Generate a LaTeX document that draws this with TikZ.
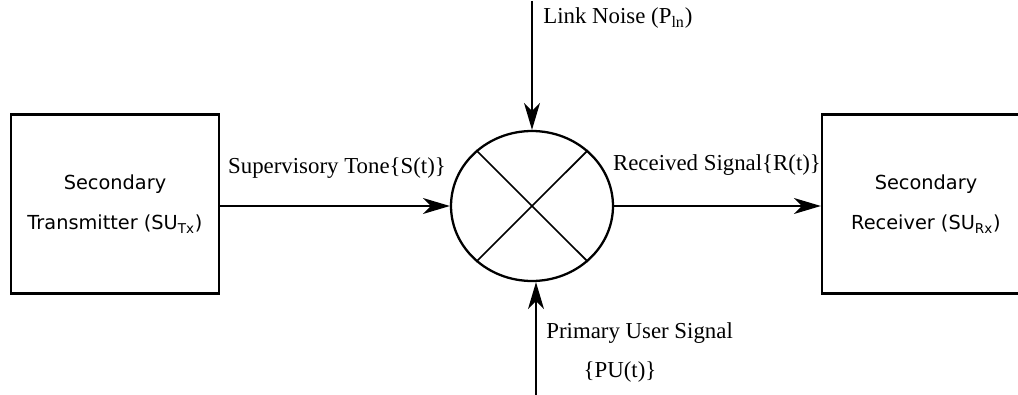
\documentclass[tikz,border=0pt]{standalone}
\usepackage{fontspec}
\setmainfont{Liberation Serif}
\newfontfamily\boxfont{DejaVu Sans}
\usetikzlibrary{positioning,arrows.meta,shapes.geometric}

\begin{document}
\begin{tikzpicture}[
x=0.02cm, y=-0.02cm,
unitbox/.style={
  draw,
  line width=1.3pt,
  minimum width=4.16cm,
  minimum height=3.58cm,
  align=center,
  font=\boxfont\fontsize{11}{23}\selectfont},
mixer/.style={
  draw,
  ellipse,
  line width=1.3pt,
  minimum width=3.24cm,
  minimum height=3cm,
  inner sep=0pt},
sig/.style={
  line width=1pt,
  -{Stealth[length=5.4mm,width=3.2mm,inset=1.6mm]}},
lbl/.style={
  font=\fontsize{13}{15}\selectfont,
  inner sep=0pt}
]
\useasboundingbox (0,0) rectangle (1018,395);
\clip (0,0) rectangle (1018,395);
\node[unitbox] (tx) at (115,204) {Secondary\\Transmitter (SU\textsubscript{Tx})};
\node[unitbox] (rx) at (926,204) {Secondary\\Receiver (SU\textsubscript{Rx})};
\node[mixer] (mix) at (532,206) {};
\draw[line width=1pt] (mix.135) -- (mix.-45);
\draw[line width=1pt] (mix.45) -- (mix.-135);
\coordinate (noise) at (532,1);
\coordinate (pu) at (536,396);
\draw[sig] (tx.east |- mix.west) -- (mix.west);
\draw[sig] (mix.east) -- (rx.west |- mix.east);
\draw[sig] (noise) -- (mix.north);
\draw[sig] (pu) -- (pu |- mix.south);
\node[lbl] (tone) at (337,168) {Supervisory Tone\{S(t)\}};
\node[lbl] (recv) at (717,165) {Received Signal\{R(t)\}};
\node[lbl, anchor=west] (lnk) at (543,18) {Link Noise (P\textsubscript{ln})};
\node[lbl, anchor=west] (prim) at (546,333) {Primary User Signal};
\node[lbl] (put) at (620,372) {\{PU(t)\}};
\end{tikzpicture}
\end{document}
